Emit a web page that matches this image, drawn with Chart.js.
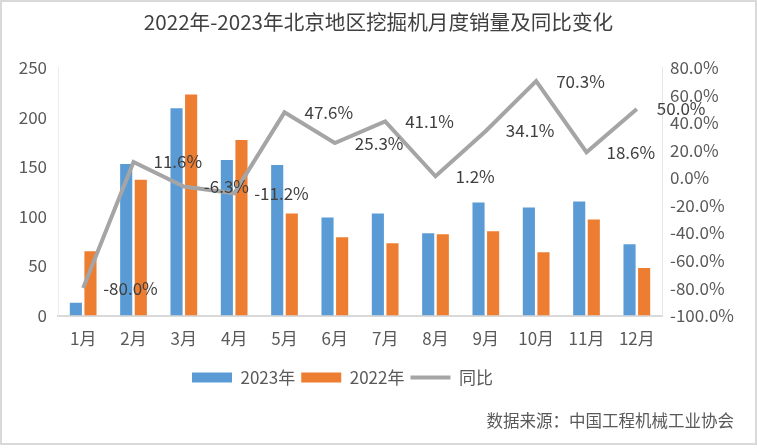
<!DOCTYPE html>
<html>
<head>
<meta charset="utf-8">
<script src="https://cdn.jsdelivr.net/npm/chart.js@4.4.0/dist/chart.umd.min.js"></script>
<style>
  html, body { margin: 0; padding: 0; background: #fff; }
  #wrap { position: relative; width: 757px; height: 448px; }
</style>
</head>
<body>
<div id="wrap"><canvas id="salesChart" width="757" height="448"></canvas></div>
<script>
/* 北京地区挖掘机月度销量 */
const months    = ["1月", "2月", "3月", "4月", "5月", "6月", "7月", "8月", "9月", "10月", "11月", "12月"];
const sales2023 = [13, 153, 209, 157, 152, 99, 103, 83, 114, 109, 115, 72];
const sales2022 = [65, 137, 223, 177, 103, 79, 73, 82, 85, 64, 97, 48];
const yoyPct    = [-80.0, 11.6, -6.3, -11.2, 47.6, 25.3, 41.1, 1.2, 34.1, 70.3, 18.6, 50.0];

const FONT = '"Noto Sans CJK SC", "Noto Sans", sans-serif';
const TXT  = "#595959";

Chart.defaults.font.family = FONT;
Chart.defaults.color = TXT;

// labels to the right of each 同比 point
const yoyLabels = {
  id: "yoyLabels",
  afterDatasetsDraw(chart) {
    const meta = chart.getDatasetMeta(2);
    const ctx = chart.ctx;
    ctx.save();
    ctx.font = "17px " + FONT;
    ctx.fillStyle = "#404040";
    ctx.textAlign = "left";
    ctx.textBaseline = "middle";
    meta.data.forEach((pt, i) => {
      ctx.fillText(yoyPct[i].toFixed(1) + "%", pt.x + 20, pt.y);
    });
    ctx.restore();
  }
};

// frame, source note, legend placement
const frame = {
  id: "frame",
  afterLayout(chart) {
    const lg = chart.legend;
    if (lg) {
      const pad = lg.options.labels.padding;
      lg.left = 192 - pad;
      lg.top += 1;
      lg.bottom += 1;
    }
  },
  afterDraw(chart) {
    const ctx = chart.ctx;
    ctx.save();
    ctx.font = "16.5px " + FONT;
    ctx.fillStyle = TXT;
    ctx.textAlign = "right";
    ctx.textBaseline = "middle";
    ctx.fillText("数据来源：中国工程机械工业协会", 734, 421);
    ctx.strokeStyle = "#d9d9d9";
    ctx.lineWidth = 2;
    ctx.strokeRect(1, 1, 755, 443);
    ctx.restore();
  }
};

const ctx = document.getElementById("salesChart").getContext("2d");

new Chart(ctx, {
  data: {
    labels: months,
    datasets: [
      {
        type: "bar",
        label: "2023年",
        data: sales2023,
        backgroundColor: "#5B9BD5",
        yAxisID: "y",
        order: 1,
        barPercentage: 0.83,
        categoryPercentage: 0.58
      },
      {
        type: "bar",
        label: "2022年",
        data: sales2022,
        backgroundColor: "#ED7D31",
        yAxisID: "y",
        order: 1,
        barPercentage: 0.83,
        categoryPercentage: 0.58
      },
      {
        type: "line",
        label: "同比",
        data: yoyPct,
        borderColor: "#A5A5A5",
        backgroundColor: "#A5A5A5",
        borderWidth: 4,
        pointRadius: 0,
        tension: 0,
        yAxisID: "y1",
        order: 0
      }
    ]
  },
  options: {
    responsive: false,
    animation: false,
    devicePixelRatio: 1,
    layout: { padding: { left: 0, right: 0, top: 0, bottom: 53 } },
    plugins: {
      title: {
        display: true,
        text: "2022年-2023年北京地区挖掘机月度销量及同比变化",
        color: "#404040",
        font: { size: 20.6, weight: "normal" },
        padding: { top: 10, bottom: 33 }
      },
      legend: {
        position: "bottom",
        align: "start",
        labels: {
          usePointStyle: true,
          pointStyleWidth: 40,
          boxHeight: 10,
          padding: 6,
          color: TXT,
          font: { size: 17 },
          generateLabels(chart) {
            const items = Chart.defaults.plugins.legend.labels.generateLabels(chart);
            items.sort((a, b) => a.datasetIndex - b.datasetIndex);
            items.forEach(it => {
              if (it.datasetIndex === 2) {
                it.pointStyle = "line";
                it.lineWidth = 4;
                it.strokeStyle = "#A5A5A5";
              } else {
                it.pointStyle = "rect";
                it.lineWidth = 0;
              }
            });
            return items;
          }
        }
      },
      tooltip: { enabled: false }
    },
    scales: {
      x: {
        grid: { display: false, drawTicks: false },
        border: { display: true, color: "#d9d9d9", width: 2 },
        ticks: { padding: 13, font: { size: 17 }, color: TXT, maxRotation: 0 }
      },
      y: {
        position: "left",
        min: 0,
        max: 250,
        grid: { display: false, drawTicks: false },
        border: { display: true, color: "#ececec", width: 1 },
        ticks: { stepSize: 50, padding: 11, font: { size: 17 }, color: TXT },
        afterFit(s) { s.width = 58; }
      },
      y1: {
        position: "right",
        min: -100,
        max: 80,
        grid: { display: false, drawTicks: false },
        border: { display: true, color: "#e6e6e6", width: 1 },
        ticks: {
          stepSize: 20,
          padding: 8,
          font: { size: 17 },
          color: TXT,
          callback: v => v.toFixed(1) + "%"
        },
        afterFit(s) { s.width = 95; }
      }
    }
  },
  plugins: [yoyLabels, frame]
});
</script>
</body>
</html>
